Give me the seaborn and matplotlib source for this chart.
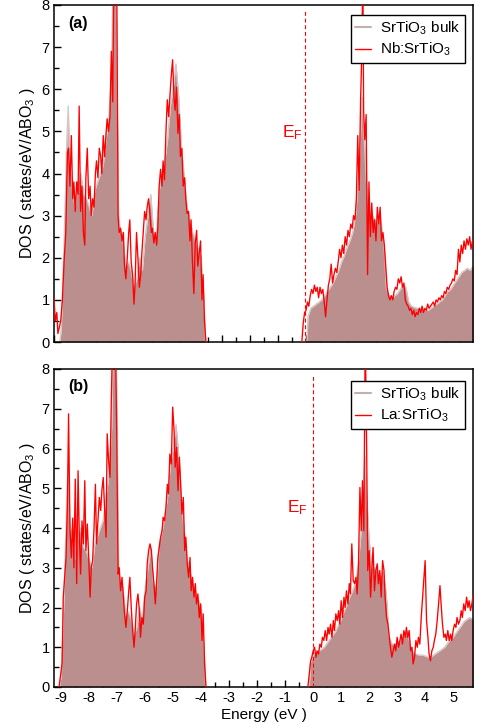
import matplotlib
matplotlib.use('Agg')
import matplotlib.pyplot as plt
import seaborn as sns
from matplotlib.lines import Line2D
from matplotlib.ticker import MultipleLocator

# ---------------- data ----------------
# SrTiO3 bulk DOS (energy frame of panel b)
BULK_VB_E = [-9.05, -9.00, -8.90, -8.80, -8.75, -8.70, -8.60, -8.50, -8.40, -8.30,
             -8.20, -8.10, -8.00, -7.90, -7.80, -7.70, -7.60, -7.50, -7.40, -7.30,
             -7.20, -7.15, -7.10, -7.05, -7.00, -6.95, -6.90, -6.80, -6.70, -6.60,
             -6.50, -6.40, -6.30, -6.20, -6.10, -6.00, -5.90, -5.80, -5.70, -5.60,
             -5.50, -5.40, -5.30, -5.20, -5.10, -5.00, -4.90, -4.80, -4.70, -4.60,
             -4.50, -4.40, -4.30, -4.20, -4.10, -4.00, -3.90, -3.84]
BULK_VB = [0.0, 0.3, 2.3, 4.8, 5.6, 4.2, 3.6, 3.2, 3.8, 4.0,
           3.5, 3.4, 3.2, 3.0, 3.6, 3.8, 4.0, 4.2, 4.8, 5.3,
           6.5, 8.5, 9.5, 9.5, 6.0, 3.0, 2.7, 2.5, 1.8, 1.9,
           1.7, 1.3, 1.5, 2.0, 1.7, 2.5, 3.0, 3.5, 2.6, 2.5,
           3.6, 3.9, 4.3, 4.8, 5.6, 6.0, 6.6, 5.8, 4.6, 3.9,
           3.2, 2.9, 2.6, 2.4, 2.2, 2.0, 1.0, 0.0]
BULK_CB_E = [-0.14, -0.10, 0.00, 0.10, 0.20, 0.30, 0.40, 0.50, 0.60, 0.70,
             0.80, 0.90, 1.00, 1.10, 1.20, 1.30, 1.40, 1.50, 1.60, 1.70,
             1.80, 1.85, 1.90, 2.00, 2.10, 2.20, 2.30, 2.40, 2.50, 2.60,
             2.65, 2.70, 2.80, 2.90, 3.00, 3.10, 3.20, 3.30, 3.40, 3.50,
             3.60, 3.70, 3.80, 3.90, 4.00, 4.10, 4.20, 4.30, 4.40, 4.50,
             4.60, 4.70, 4.80, 4.90, 5.00, 5.10, 5.20, 5.30, 5.40, 5.50,
             5.60, 5.70, 5.80, 5.90]
BULK_CB = [0.0, 0.6, 0.8, 0.85, 0.9, 0.95, 1.0, 1.1, 1.2, 1.3,
           1.4, 1.55, 1.7, 1.9, 2.05, 2.25, 2.4, 2.6, 3.0, 3.8,
           5.2, 5.8, 5.0, 3.7, 3.0, 3.0, 2.9, 2.8, 2.9, 2.4,
           2.0, 1.3, 1.1, 1.05, 1.1, 1.15, 1.25, 1.35, 1.3, 0.95,
           0.85, 0.82, 0.8, 0.8, 0.78, 0.75, 0.75, 0.8, 0.85, 0.9,
           0.95, 1.0, 1.1, 1.2, 1.25, 1.35, 1.45, 1.55, 1.65, 1.7,
           1.75, 1.7, 1.8, 1.8]
# bulk band offsets in panel (a) frame
SHIFT_A_VB = 0.25
SHIFT_A_CB = 0.17

# Nb:SrTiO3 (panel a)
NB_VB_E = [-9.05, -9.01, -8.96, -8.91, -8.87, -8.82, -8.77, -8.71, -8.65, -8.59,
           -8.53, -8.49, -8.44, -8.39, -8.34, -8.30, -8.25, -8.20, -8.15, -8.11,
           -8.06, -8.01, -7.96, -7.91, -7.87, -7.82, -7.77, -7.72, -7.68, -7.63,
           -7.58, -7.53, -7.49, -7.44, -7.39, -7.34, -7.30, -7.25, -7.20, -7.15,
           -7.11, -7.06, -7.01, -6.96, -6.91, -6.87, -6.82, -6.77, -6.72, -6.68,
           -6.63, -6.58, -6.53, -6.49, -6.44, -6.39, -6.34, -6.30, -6.25, -6.20,
           -6.15, -6.11, -6.06, -6.01, -5.96, -5.91, -5.87, -5.82, -5.77, -5.72,
           -5.68, -5.63, -5.58, -5.53, -5.49, -5.44, -5.39, -5.34, -5.30, -5.25,
           -5.20, -5.15, -5.11, -5.06, -5.01, -4.96, -4.91, -4.87, -4.82, -4.77,
           -4.72, -4.68, -4.63, -4.58, -4.53, -4.49, -4.44, -4.39, -4.34, -4.30,
           -4.25, -4.20, -4.15, -4.11, -4.06, -4.01, -3.96, -3.91, -3.87, -3.82,
           -3.77, -3.72, -3.68, -3.63, -3.58]
NB_VB = [1.2, 1.0, 0.5, 0.7, 0.2, 0.35, 0.5, 1.0, 1.9, 2.6,
         4.5, 4.6, 3.7, 4.9, 3.4, 3.8, 3.1, 3.8, 3.5, 5.6,
         3.1, 3.7, 2.6, 2.3, 3.9, 4.6, 3.4, 3.7, 3.0, 3.4,
         3.2, 4.0, 4.3, 3.9, 4.6, 4.4, 4.0, 4.9, 4.4, 4.95,
         5.3, 5.0, 5.35, 6.9, 5.7, 9.0, 9.0, 9.0, 3.0, 2.6,
         2.7, 2.4, 2.6, 1.8, 1.5, 2.0, 2.6, 2.9, 1.9, 1.6,
         0.9, 1.4, 2.6, 2.0, 1.3, 1.6, 2.1, 2.6, 3.1, 2.9,
         3.2, 3.4, 3.05, 2.6, 2.7, 2.35, 2.6, 2.3, 2.7, 3.7,
         4.1, 3.7, 4.3, 3.85, 4.95, 5.75, 5.35, 5.8, 6.3, 6.7,
         5.8, 5.5, 6.05, 4.95, 5.4, 4.4, 4.6, 3.7, 3.9, 3.4,
         3.05, 3.1, 2.4, 2.9, 1.9, 1.15, 2.35, 2.65, 1.8, 2.1,
         2.4, 1.0, 1.6, 0.5, 0.0]
NB_CB_E = [-0.15, -0.10, -0.05, 0.00, 0.05, 0.10, 0.15, 0.20, 0.25, 0.30,
           0.35, 0.40, 0.45, 0.50, 0.55, 0.60, 0.65, 0.70, 0.75, 0.80,
           0.85, 0.90, 0.95, 1.00, 1.05, 1.10, 1.15, 1.20, 1.25, 1.30,
           1.35, 1.40, 1.45, 1.50, 1.55, 1.60, 1.65, 1.70, 1.75, 1.80,
           1.85, 1.90, 1.95, 2.00, 2.03, 2.06, 2.10, 2.15, 2.20, 2.25,
           2.30, 2.35, 2.40, 2.45, 2.50, 2.55, 2.60, 2.65, 2.70, 2.75,
           2.80, 2.85, 2.90, 2.95, 3.00, 3.05, 3.10, 3.15, 3.20, 3.25,
           3.30, 3.35, 3.40, 3.45, 3.50, 3.55, 3.60, 3.65, 3.70, 3.75,
           3.80, 3.85, 3.90, 3.95, 4.00, 4.05, 4.10, 4.15, 4.20, 4.25,
           4.30, 4.35, 4.40, 4.45, 4.50, 4.55, 4.60, 4.65, 4.70, 4.75,
           4.80, 4.85, 4.90, 4.95, 5.00, 5.05, 5.10, 5.15, 5.20, 5.25,
           5.30, 5.35, 5.40, 5.45, 5.50, 5.55, 5.60, 5.65, 5.70, 5.75,
           5.80, 5.85, 5.90, 5.95]
NB_CB = [0.0, 0.45, 0.7, 0.75, 0.95, 0.85, 1.1, 1.25, 1.15, 1.35,
         1.2, 1.3, 1.05, 1.3, 1.15, 1.25, 0.95, 0.6, 1.0, 1.35,
         1.5, 1.85, 1.4, 1.6, 1.75, 1.65, 1.9, 2.2, 2.0, 2.3,
         2.1, 2.5, 2.3, 2.65, 2.5, 2.8, 2.7, 3.0, 2.9, 3.4,
         4.9, 3.6, 5.7, 7.0, 9.0, 5.5, 4.8, 5.4, 1.6, 3.8,
         2.5, 3.3, 2.6, 2.9, 2.4, 3.2, 2.8, 3.2, 2.4, 2.6,
         2.3, 1.8, 1.3, 1.1, 1.0, 1.1, 1.0, 1.2, 1.3, 1.25,
         1.5, 1.4, 1.55, 1.3, 1.4, 1.0, 0.9, 0.85, 0.75, 0.8,
         0.65, 0.75, 0.6, 0.7, 0.65, 0.8, 0.7, 0.85, 0.7, 0.8,
         0.75, 0.9, 0.8, 0.85, 0.9, 0.95, 0.85, 1.0, 0.95, 1.05,
         1.0, 1.1, 1.05, 1.2, 1.15, 1.3, 1.25, 1.35, 1.4, 1.5,
         1.45, 1.7, 1.6, 2.2, 1.9, 2.3, 2.1, 2.4, 2.2, 2.45,
         2.3, 2.5, 2.2, 2.4]

# La:SrTiO3 (panel b)
LA_VB_E = [-9.08, -9.02, -8.97, -8.93, -8.88, -8.83, -8.78, -8.74, -8.69, -8.64,
           -8.59, -8.55, -8.50, -8.45, -8.40, -8.36, -8.31, -8.26, -8.21, -8.16,
           -8.12, -8.07, -8.02, -7.97, -7.93, -7.88, -7.83, -7.78, -7.74, -7.69,
           -7.64, -7.59, -7.55, -7.50, -7.45, -7.40, -7.36, -7.31, -7.26, -7.21,
           -7.16, -7.12, -7.07, -7.02, -6.97, -6.93, -6.88, -6.83, -6.78, -6.74,
           -6.69, -6.64, -6.59, -6.55, -6.50, -6.45, -6.40, -6.36, -6.31, -6.26,
           -6.21, -6.17, -6.12, -6.07, -6.02, -5.97, -5.93, -5.88, -5.83, -5.78,
           -5.74, -5.69, -5.64, -5.59, -5.55, -5.50, -5.45, -5.40, -5.36, -5.31,
           -5.26, -5.21, -5.17, -5.12, -5.07, -5.02, -4.97, -4.93, -4.88, -4.83,
           -4.78, -4.74, -4.69, -4.64, -4.59, -4.55, -4.50, -4.45, -4.40, -4.36,
           -4.31, -4.26, -4.21, -4.17, -4.12, -4.07, -4.02, -3.97, -3.93, -3.88,
           -3.83]
LA_VB = [0.0, 0.33, 0.6, 2.25, 2.75, 3.25, 4.6, 6.87, 4.0, 3.25,
         4.25, 3.0, 5.23, 2.6, 5.44, 3.93, 2.84, 4.18, 3.6, 5.19,
         3.43, 4.1, 3.26, 2.26, 3.0, 3.18, 4.0, 5.1, 3.6, 4.18,
         4.77, 4.44, 4.94, 5.27, 4.44, 3.77, 6.37, 5.7, 5.27, 7.3,
         9.0, 9.0, 9.0, 6.45, 2.84, 3.0, 2.42, 2.76, 2.26, 1.84,
         1.5, 1.92, 2.42, 2.76, 2.0, 1.42, 1.0, 1.42, 2.09, 2.34,
         1.92, 1.25, 1.75, 1.58, 2.26, 2.42, 3.1, 3.43, 3.6, 3.43,
         3.0, 2.6, 2.09, 2.68, 3.26, 3.51, 3.77, 3.93, 4.27, 4.18,
         4.52, 5.1, 4.86, 5.86, 5.61, 7.04, 6.45, 5.53, 6.03, 4.94,
         5.78, 5.19, 4.35, 4.77, 3.43, 3.77, 3.1, 2.76, 3.26, 2.42,
         2.76, 2.26, 2.6, 2.09, 2.34, 1.75, 2.09, 1.17, 1.84, 0.58,
         0.0]
LA_CB_E = [-0.19, -0.14, -0.09, -0.05, 0.00, 0.05, 0.10, 0.14, 0.19, 0.24,
           0.29, 0.33, 0.38, 0.43, 0.48, 0.53, 0.57, 0.62, 0.67, 0.72,
           0.76, 0.81, 0.86, 0.91, 0.95, 1.00, 1.05, 1.10, 1.14, 1.19,
           1.24, 1.29, 1.33, 1.38, 1.43, 1.48, 1.53, 1.57, 1.62, 1.67,
           1.72, 1.76, 1.81, 1.86, 1.91, 1.95, 2.00, 2.05, 2.10, 2.14,
           2.19, 2.24, 2.29, 2.33, 2.38, 2.43, 2.48, 2.53, 2.57, 2.62,
           2.67, 2.72, 2.76, 2.81, 2.86, 2.91, 2.95, 3.00, 3.05, 3.10,
           3.14, 3.19, 3.24, 3.29, 3.33, 3.38, 3.43, 3.48, 3.53, 3.57,
           3.62, 3.67, 3.72, 3.76, 3.81, 3.86, 3.91, 3.95, 4.00, 4.05,
           4.10, 4.14, 4.19, 4.24, 4.29, 4.33, 4.38, 4.43, 4.48, 4.53,
           4.57, 4.62, 4.67, 4.72, 4.76, 4.81, 4.86, 4.91, 4.95, 5.00,
           5.05, 5.10, 5.14, 5.19, 5.24, 5.29, 5.33, 5.38, 5.43, 5.48,
           5.53, 5.57, 5.62, 5.67, 5.72]
LA_CB = [0.0, 0.33, 0.66, 0.75, 0.91, 1.0, 0.75, 0.91, 0.83, 1.08,
         1.0, 1.25, 1.17, 1.42, 1.17, 1.5, 1.33, 1.58, 1.25, 1.67,
         1.42, 1.84, 1.67, 1.92, 1.58, 2.17, 1.75, 2.26, 2.0, 2.42,
         2.09, 2.6, 2.34, 3.6, 2.68, 2.6, 2.76, 2.34, 3.1, 5.02,
         3.93, 5.19, 3.93, 9.0, 6.03, 2.93, 3.43, 2.26, 3.0, 3.51,
         2.42, 2.93, 3.1, 2.6, 2.93, 2.26, 3.18, 2.93, 2.26, 1.75,
         1.58, 1.25, 1.0, 0.75, 0.91, 1.08, 0.91, 1.25, 1.0, 1.17,
         1.33, 1.08, 1.42, 1.25, 1.5, 1.25, 1.42, 0.91, 1.0, 0.58,
         0.75, 1.17, 1.0, 1.25, 1.08, 1.75, 2.26, 2.68, 3.18, 1.67,
         1.25, 0.83, 0.66, 0.91, 1.0, 1.17, 1.33, 1.67, 2.09, 2.55,
         2.09, 1.58, 1.25, 1.33, 1.17, 1.42, 1.17, 1.33, 1.17, 1.42,
         1.58, 1.5, 1.75, 1.58, 1.67, 1.92, 1.75, 2.09, 1.92, 2.26,
         2.0, 2.17, 1.92, 2.09, 2.34]

PANEL_LABELS = ["(a)", "(b)"]
LEGEND_LABELS = [["SrTiO$_3$ bulk", "Nb:SrTiO$_3$"], ["SrTiO$_3$ bulk", "La:SrTiO$_3$"]]
EF_POS = [-0.04, 0.0]
XLIMS = [(-9.01, 5.97), (-9.26, 5.71)]
XTICKS = [-9, -8, -7, -6, -5, -4, -3, -2, -1, 0, 1, 2, 3, 4, 5]
YTICKS = [0, 1, 2, 3, 4, 5, 6, 7, 8]

# ---------------- style ----------------
sns.set_style("ticks")
plt.rcParams['font.family'] = ['Liberation Sans', 'DejaVu Sans']
plt.rcParams['mathtext.fontset'] = 'custom'
plt.rcParams['mathtext.rm'] = 'Liberation Sans'
plt.rcParams['mathtext.it'] = 'Liberation Sans:italic'
plt.rcParams['mathtext.bf'] = 'Liberation Sans:bold'
plt.rcParams['mathtext.default'] = 'regular'
plt.rcParams['axes.unicode_minus'] = False
for k in ['text.color', 'axes.labelcolor', 'xtick.color', 'ytick.color', 'axes.edgecolor']:
    plt.rcParams[k] = 'black'

FILL = '#bc8f8f'
EDGE = '#d6c6c6'
RED = '#ff0000'

fig = plt.figure(figsize=(4.82, 7.28), dpi=100)
W, H = 482.0, 728.0
ax_a = fig.add_axes([54 / W, 1 - 342 / H, 419 / W, 337 / H])
ax_b = fig.add_axes([54 / W, 1 - 687 / H, 419 / W, 318 / H])


def draw_bulk(ax, shift_vb, shift_cb):
    for E, D, s in [(BULK_VB_E, BULK_VB, shift_vb), (BULK_CB_E, BULK_CB, shift_cb)]:
        Es = [e + s for e in E]
        ax.fill_between(Es, 0, D, color=FILL, lw=0, zorder=1)
        sns.lineplot(x=Es, y=D, ax=ax, color=EDGE, lw=1.0, estimator=None,
                     sort=False, zorder=2)


def draw_red(ax, pairs):
    for E, D in pairs:
        sns.lineplot(x=E, y=D, ax=ax, color=RED, lw=0.95, estimator=None,
                     sort=False, zorder=3)


draw_bulk(ax_a, SHIFT_A_VB, SHIFT_A_CB)
draw_red(ax_a, [(NB_VB_E, NB_VB), (NB_CB_E, NB_CB)])
draw_bulk(ax_b, 0.0, 0.0)
draw_red(ax_b, [(LA_VB_E, LA_VB), (LA_CB_E, LA_CB)])

ef_text = [(-0.11, 4.85), (-0.18, 4.4)]
leg_anchor = [(0.981, 0.970), (0.981, 0.962)]

for i, ax in enumerate([ax_a, ax_b]):
    ax.set_xlim(*XLIMS[i])
    ax.set_ylim(0, 8)
    ax.set_xticks(XTICKS)
    ax.set_yticks(YTICKS)
    ax.xaxis.set_minor_locator(MultipleLocator(0.5))
    ax.yaxis.set_minor_locator(MultipleLocator(0.5))
    ax.tick_params(which='major', direction='in', length=5, width=1.0,
                   labelsize=10.5, top=False, right=False, pad=3)
    ax.tick_params(which='minor', direction='in', length=3.5, width=1.0,
                   top=False, right=False)
    for sp in ax.spines.values():
        sp.set_linewidth(1.1)
        sp.set_color('black')
        sp.set_visible(True)
    ax.set_ylabel("DOS ( states/eV/ABO$_3$ )", fontsize=11.5)
    ax.yaxis.set_label_coords(-0.040, 0.5)
    ax.set_xlabel("")
    ax.vlines(EF_POS[i], 0, 7.85, colors=RED, linestyles=(0, (3.5, 2.5)),
              lw=0.8, zorder=4)
    ax.text(ef_text[i][0], ef_text[i][1], "E$_F$", color=RED, fontsize=12.5,
            ha='right', va='baseline')
    ax.text(0.033, 0.968, PANEL_LABELS[i], transform=ax.transAxes,
            fontsize=11.5, fontweight='bold', ha='left', va='top')
    handles = [Line2D([], [], color='#c9adad', lw=1.5),
               Line2D([], [], color=RED, lw=1.0)]
    leg = ax.legend(handles, LEGEND_LABELS[i], loc='upper right',
                    bbox_to_anchor=leg_anchor[i], borderaxespad=0.0,
                    frameon=True, fancybox=False, framealpha=1.0,
                    edgecolor='black', fontsize=11, handlelength=1.0,
                    handletextpad=0.6, borderpad=0.3, labelspacing=0.25)
    leg.get_frame().set_linewidth(1.0)

ax_a.tick_params(labelbottom=False)
ax_b.set_xlabel("Energy (eV )", fontsize=11, labelpad=2)

fig.savefig("out.png", dpi=100)
